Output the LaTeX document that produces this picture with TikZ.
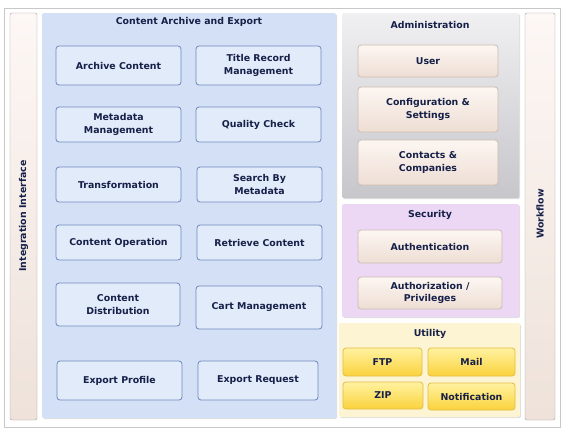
\documentclass[tikz,border=0pt]{standalone}
\usepackage{fontspec}
\setmainfont{DejaVu Sans}
\usetikzlibrary{shadows}

\definecolor{navy}{RGB}{22,32,72}
\definecolor{framegray}{RGB}{200,200,200}
\definecolor{panelblue}{RGB}{212,224,246}
\definecolor{boxblue}{RGB}{226,235,250}
\definecolor{lineblue}{RGB}{110,136,188}
\definecolor{graytop}{RGB}{240,240,242}
\definecolor{graybot}{RGB}{198,198,203}
\definecolor{peachtop}{RGB}{252,246,242}
\definecolor{peachbot}{RGB}{238,222,212}
\definecolor{peachline}{RGB}{205,188,178}
\definecolor{lavender}{RGB}{236,215,244}
\definecolor{paleyellow}{RGB}{252,244,210}
\definecolor{yeltop}{RGB}{255,242,160}
\definecolor{yelbot}{RGB}{250,210,60}
\definecolor{yelline}{RGB}{228,190,70}
\definecolor{bartop}{RGB}{253,247,245}
\definecolor{barbot}{RGB}{238,226,218}

\tikzset{
  txt/.style={font=\bfseries\fontsize{9.4}{12.2}\selectfont, text=navy, align=center},
  panel/.style={rounded corners=1.5pt, draw=none,
    drop shadow={opacity=0.25, shadow xshift=1pt, shadow yshift=-1pt}},
  sidebar/.style={rounded corners=2pt, draw=framegray!80!black,
    top color=bartop, bottom color=barbot},
  bluebox/.style={txt, rounded corners=3pt, draw=lineblue, line width=0.8pt,
    fill=boxblue, inner sep=0pt},
  peachbox/.style={txt, rounded corners=3pt, draw=peachline, line width=0.8pt,
    top color=peachtop, bottom color=peachbot, inner sep=0pt},
  yelbox/.style={txt, rounded corners=3pt, draw=yelline, line width=0.8pt,
    top color=yeltop, bottom color=yelbot, inner sep=0pt},
  title/.style={txt}
}

% box from corner to corner
\newcommand{\cbox}[6]{\node[#1, minimum width=#4-#2, minimum height=#5-#3] (#6) at ({(#2+#4)/2},{(#3+#5)/2})}

\begin{document}
\begin{tikzpicture}[x=1pt, y=-1pt]
\useasboundingbox (0,0) rectangle (583,432);
\fill[white] (0,0) rectangle (583,432);
\draw[framegray] (4,8) rectangle (560,427);

% side bars
\draw[sidebar] (10,13) rectangle (37,420);
\node[txt, rotate=90] (integration) at (23.5,216) {Integration Interface};
\draw[sidebar] (525,13) rectangle (555,420);
\node[txt, rotate=90] (workflow) at (540,214) {Workflow};

% content archive and export
\fill[panel, panelblue] (42,13) rectangle (336,418);
\node[title] (cae) at (189,22) {Content Archive and Export};
\cbox{bluebox}{56}{46}{181}{85}{archive} {Archive Content};
\cbox{bluebox}{196}{46}{321}{85}{title} {Title Record\\Management};
\cbox{bluebox}{56}{107}{181}{142}{metadata} {Metadata\\Management};
\cbox{bluebox}{196}{107}{321}{142}{quality} {Quality Check};
\cbox{bluebox}{56}{167}{181}{202}{transform} {Transformation};
\cbox{bluebox}{197}{167}{322}{202}{search} {Search By\\Metadata};
\cbox{bluebox}{56}{225}{181}{260}{operation} {Content Operation};
\cbox{bluebox}{197}{225}{322}{260}{retrieve} {Retrieve Content};
\cbox{bluebox}{56}{283}{180}{326}{distribution} {Content\\Distribution};
\cbox{bluebox}{196}{286}{322}{329}{cart} {Cart Management};
\cbox{bluebox}{57}{361}{182}{400}{profile} {Export Profile};
\cbox{bluebox}{198}{361}{318}{400}{request} {Export Request};

% administration
\shade[panel, top color=graytop, bottom color=graybot] (342,13) rectangle (519,198);
\node[title] (admin) at (430,25) {Administration};
\cbox{peachbox}{358}{45}{498}{77}{user} {User};
\cbox{peachbox}{358}{87}{498}{132}{config} {Configuration \&\\Settings};
\cbox{peachbox}{358}{140}{498}{185}{contacts} {Contacts \&\\Companies};

% security
\fill[panel, lavender] (342,204) rectangle (519,317);
\node[title] (security) at (430,215) {Security};
\cbox{peachbox}{358}{230}{502}{263}{authn} {Authentication};
\cbox{peachbox}{358}{277}{502}{309}{authz} {Authorization /\\Privileges};

% utility
\fill[panel, paleyellow] (339,323) rectangle (520,417);
\node[title] (utility) at (430,334) {Utility};
\cbox{yelbox}{343}{348}{422}{376}{ftp} {FTP};
\cbox{yelbox}{428}{348}{515}{376}{mail} {Mail};
\cbox{yelbox}{343}{382}{423}{409}{zip} {ZIP};
\cbox{yelbox}{428}{383}{515}{410}{notify} {Notification};
\end{tikzpicture}
\end{document}
